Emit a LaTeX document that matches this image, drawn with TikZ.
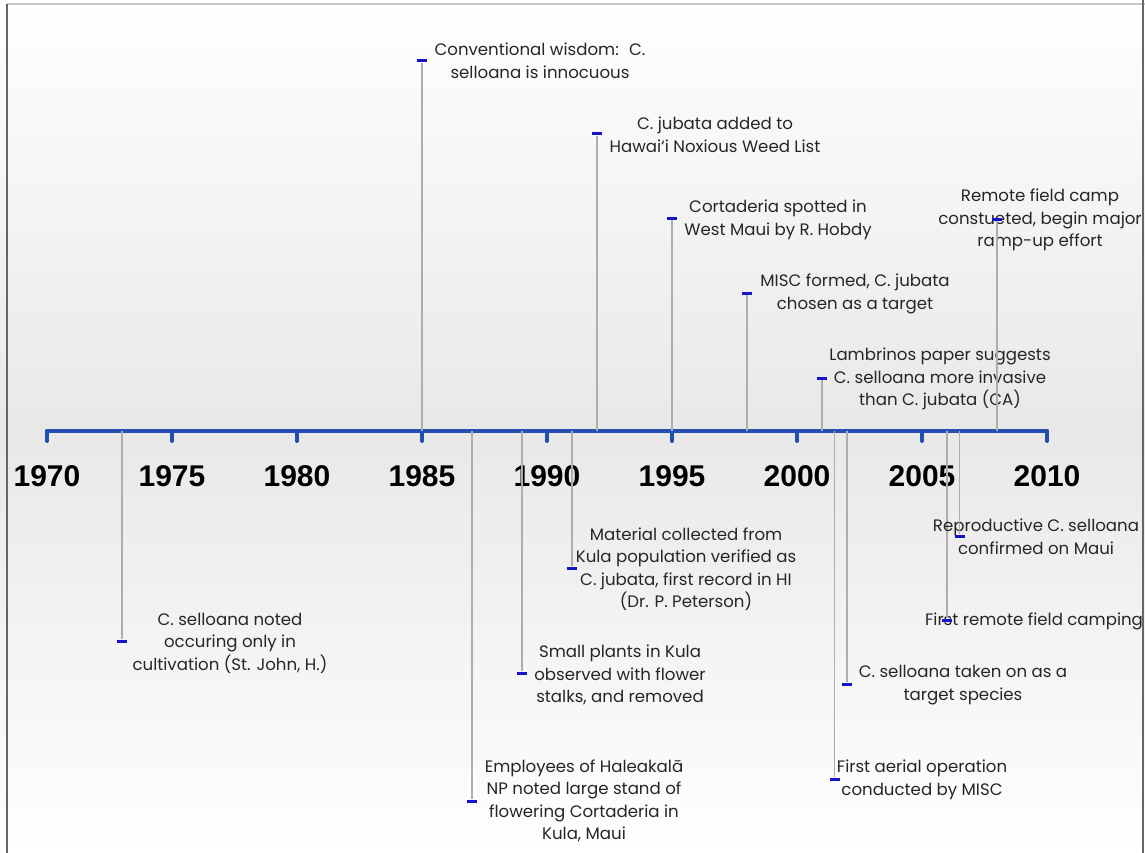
\documentclass[tikz,border=0pt]{standalone}
\usepackage{fontspec}
\setmainfont{Poppins}
\newfontfamily\yearfont{Liberation Sans}
\definecolor{axisblue}{RGB}{38,78,178}
\definecolor{markblue}{RGB}{20,20,205}
\def\yearsep{25}
\def\axisy{431}

\begin{document}
\begin{tikzpicture}[x=1pt, y=-1pt]
    \tikzstyle{stem}=[draw=black!32, line width=1.5pt]
    \tikzstyle{marker}=[rectangle, fill=markblue, minimum width=10pt, minimum height=3pt, inner sep=0pt]
    \tikzstyle{event}=[align=center, text=black!85, inner sep=0pt, font=\fontsize{16.6}{22.5}\selectfont]
    \tikzstyle{year}=[inner sep=0pt, font=\yearfont\bfseries\fontsize{30}{30}\selectfont]
    \tikzstyle{axis}=[draw=axisblue, line width=4pt, line cap=round]

    % Background and frame
    \useasboundingbox (0,0) rectangle (1145,853);
    \shade[top color=white, bottom color=black!9] (0,0) rectangle (1145,\axisy);
    \shade[top color=black!9, bottom color=white] (0,\axisy) rectangle (1145,853);
    \draw[black!22, line width=1.5pt] (7,4) -- (1145,4);
    \draw[black!60, line width=2pt] (7,4) -- (7,853);
    \draw[black!60, line width=2pt] (1143,0) -- (1143,853);

    % Draw the ticks and the years
    \foreach \i in {0,...,8} {
        \pgfmathsetmacro\xx{47+\i*5*\yearsep}
        \coordinate (T-\i) at (\xx,\axisy);
        \coordinate (TE-\i) at (\xx,441);
        \draw[axis] (T-\i) -- (TE-\i);
        \node[year] (Y-\i) at (\xx,476) {\the\numexpr1970+5*\i\relax};
    }

    % Draw the time axis
    \draw[axis] (T-0) -- (T-8);

    % Draw the events: number / year / marker y / label x / label y / text
    \foreach \n / \yr / \my / \lx / \ly / \txt in {
        1/1973/641/230/643/{C. selloana noted\\occuring only in\\cultivation (St. John, H.)},
        2/1985/61/540/61/{Conventional wisdom:~ C.\\selloana is innocuous},
        3/1987/801/584/801/{Employees of Haleakalā\\NP noted large stand of\\flowering Cortaderia in\\Kula, Maui},
        4/1989/673/620/675/{Small plants in Kula\\observed with flower\\stalks, and removed},
        5/1991/568/686/569/{Material collected from\\Kula population verified as\\C. jubata, first record in HI\\(Dr. P. Peterson)},
        6/1992/134/715/135/{C. jubata added to\\Hawai‘i Noxious Weed List},
        7/1995/218/778/220/{Cortaderia spotted in\\West Maui by R. Hobdy},
        8/1998/293/855/294/{MISC formed, C. jubata\\chosen as a target},
        9/2001/378/940/379/{Lambrinos paper suggests\\C. selloana more invasive\\than C. jubata (CA)},
        10/2001.5/779/922/780/{First aerial operation\\conducted by MISC},
        11/2002/684/963/685/{C. selloana taken on as a\\target species},
        12/2006/620/1034/621/{First remote field camping},
        13/2006.5/536/1036/537/{Reproductive C. selloana\\confirmed on Maui},
        14/2008/219/1040/220/{Remote field camp\\constueted, begin major\\ramp-up effort}} {
        \pgfmathsetmacro\xx{47+(\yr-1970)*\yearsep}
        \coordinate (A-\n) at (\xx,\axisy);
        \node[event] (L-\n) at (\lx,\ly) {\txt};
        \node[marker] (M-\n) at (\xx,\my) {};
        \draw[stem] (A-\n) -- (M-\n);
    }
\end{tikzpicture}
\end{document}
